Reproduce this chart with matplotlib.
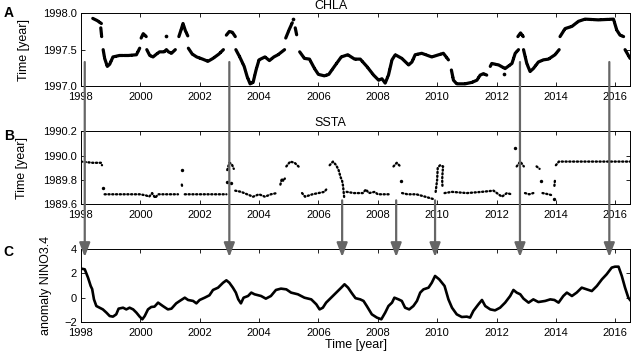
import numpy as np, matplotlib
matplotlib.use('Agg')
import matplotlib.pyplot as plt
from matplotlib.patches import ConnectionPatch
from matplotlib.ticker import FormatStrFormatter

nan = np.nan
# panel A: CHLA, nan breaks the dotted curve into its pieces
chla_year = [1998.40, 1998.55, 1998.69, nan, 1998.67, 1998.70, nan,
             1998.75, 1998.80, 1998.89, 1998.97, 1999.08, 1999.3, 1999.6, 1999.87, 1999.98, nan,
             2000.03, 2000.1, 2000.2, nan,
             2000.22, 2000.32, 2000.43, 2000.55, 2000.65, 2000.8, 2000.88, 2000.95, 2001.05, 2001.18, nan,
             2000.85, nan,
             2001.30, 2001.38, 2001.44, 2001.52, 2001.6, nan,
             2001.62, 2001.75, 2001.9, 2002.1, 2002.28, 2002.45, 2002.65, 2002.8, nan,
             2002.9, 2003.0, 2003.1, 2003.2, nan,
             2003.22, 2003.35, 2003.5, 2003.6, 2003.7, 2003.8, 2003.9, 2004.0, 2004.2, 2004.35, 2004.5, 2004.64, 2004.86, nan,
             2004.9, 2005.02, 2005.12, nan, 2005.15, nan, 2005.22, 2005.27, nan,
             2005.37, 2005.53, 2005.7, 2005.87, 2006.0, 2006.2, 2006.35, 2006.54, 2006.77, 2006.99, 2007.22,
             2007.41, 2007.63, 2007.86, 2008.03, 2008.14, 2008.25, 2008.36, 2008.48, 2008.59, 2008.81, 2009.04,
             2009.15, 2009.26, 2009.48, 2009.82, 2010.05, 2010.21, 2010.38, nan,
             2010.48, 2010.55, 2010.66, 2010.94, 2011.17, 2011.34, 2011.45, 2011.56, 2011.67, nan,
             2011.79, 2011.84, 2012.07, 2012.29, 2012.52, 2012.63, 2012.74, nan,
             2012.25, nan,
             2012.72, 2012.81, 2012.9, nan,
             2012.91, 2013.02, 2013.13, 2013.24, 2013.41, 2013.58, 2013.75, 2013.97, 2014.11, nan,
             2014.14, 2014.31, 2014.54, 2014.76, 2014.98, 2015.43, 2015.94, 2016.05, 2016.16, 2016.28, nan,
             2016.33, 2016.5]
chla_time = [1997.93, 1997.90, 1997.86, nan, 1997.80, 1997.68, nan,
             1997.50, 1997.38, 1997.27, 1997.30, 1997.40, 1997.42, 1997.42, 1997.43, 1997.52, nan,
             1997.66, 1997.72, 1997.68, nan,
             1997.50, 1997.42, 1997.40, 1997.44, 1997.47, 1997.47, 1997.50, 1997.47, 1997.45, 1997.50, nan,
             1997.69, nan,
             1997.68, 1997.78, 1997.86, 1997.76, 1997.69, nan,
             1997.52, 1997.44, 1997.40, 1997.37, 1997.34, 1997.38, 1997.44, 1997.50, nan,
             1997.70, 1997.75, 1997.74, 1997.68, nan,
             1997.50, 1997.40, 1997.27, 1997.13, 1997.03, 1997.05, 1997.22, 1997.36, 1997.40, 1997.35, 1997.40, 1997.43, 1997.50, nan,
             1997.66, 1997.78, 1997.87, nan, 1997.92, nan, 1997.80, 1997.70, nan,
             1997.47, 1997.38, 1997.37, 1997.24, 1997.16, 1997.14, 1997.16, 1997.27, 1997.40, 1997.43, 1997.37,
             1997.37, 1997.27, 1997.15, 1997.08, 1997.10, 1997.04, 1997.15, 1997.36, 1997.43, 1997.38, 1997.29,
             1997.33, 1997.43, 1997.45, 1997.40, 1997.43, 1997.45, 1997.36, nan,
             1997.22, 1997.08, 1997.03, 1997.03, 1997.05, 1997.08, 1997.15, 1997.17, 1997.15, nan,
             1997.27, 1997.31, 1997.29, 1997.24, 1997.31, 1997.45, 1997.50, nan,
             1997.17, nan,
             1997.68, 1997.73, 1997.68, nan,
             1997.50, 1997.31, 1997.20, 1997.24, 1997.33, 1997.36, 1997.37, 1997.43, 1997.50, nan,
             1997.68, 1997.79, 1997.82, 1997.89, 1997.92, 1997.91, 1997.92, 1997.77, 1997.70, 1997.68, nan,
             1997.50, 1997.38]

# panel B: SSTA
ssta_year = [1998.0, 1998.4, 1998.68, 1998.71, nan, 1998.74, nan,
             1998.8, 1999.2, 1999.6, 2000.0, 2000.2, 2000.3, 2000.4, 2000.5, 2000.6, 2001.0, 2001.27, nan,
             2001.4, nan, 2001.4, 2001.42, nan,
             2001.5, 2002.0, 2002.5, 2002.9, nan,
             2002.93, 2003.0, 2003.08, 2003.15, nan, 2002.93, nan, 2003.07, nan,
             2003.2, 2003.4, 2003.6, 2003.8, 2004.0, 2004.2, 2004.4, 2004.6, nan,
             2004.72, 2004.77, 2004.82, 2004.87, nan,
             2004.92, 2005.05, 2005.2, 2005.37, nan,
             2005.45, 2005.55, 2005.8, 2006.0, 2006.2, 2006.3, nan,
             2006.38, 2006.49, 2006.6, 2006.68, 2006.75, 2006.8, 2006.83, 2006.85, 2006.87, nan,
             2006.95, 2007.2, 2007.5, 2007.6, 2007.7, 2007.9, 2008.0, 2008.4, nan,
             2008.53, 2008.64, 2008.76, nan, 2008.79, nan,
             2008.82, 2009.0, 2009.3, 2009.6, 2009.88, nan,
             2009.95, 2009.98, 2010.0, 2010.02, 2010.1, 2010.2, 2010.18, 2010.17, 2010.18, nan,
             2010.25, 2010.5, 2011.0, 2011.5, 2011.9, 2012.18, 2012.35, 2012.5, nan,
             2012.63, nan,
             2012.68, 2012.8, 2012.92, nan,
             2012.96, 2013.1, 2013.24, nan,
             2013.35, 2013.45, nan, 2013.5, nan,
             2013.55, 2013.75, 2013.9, nan, 2013.92, nan,
             2013.95, 2013.97, nan,
             2014.0, 2014.1, 2015.0, 2016.5]
ssta_time = [1989.95, 1989.94, 1989.94, 1989.92, nan, 1989.73, nan,
             1989.68, 1989.68, 1989.68, 1989.68, 1989.67, 1989.66, 1989.69, 1989.65, 1989.68, 1989.68, 1989.68, nan,
             1989.88, nan, 1989.76, 1989.73, nan,
             1989.68, 1989.68, 1989.68, 1989.68, nan,
             1989.88, 1989.94, 1989.93, 1989.89, nan, 1989.78, nan, 1989.77, nan,
             1989.71, 1989.70, 1989.68, 1989.66, 1989.68, 1989.66, 1989.68, 1989.69, nan,
             1989.76, 1989.81, 1989.79, 1989.81, nan,
             1989.91, 1989.95, 1989.94, 1989.90, nan,
             1989.69, 1989.66, 1989.68, 1989.69, 1989.70, 1989.73, nan,
             1989.92, 1989.95, 1989.92, 1989.88, 1989.82, 1989.79, 1989.75, 1989.70, 1989.65, nan,
             1989.70, 1989.69, 1989.69, 1989.72, 1989.69, 1989.70, 1989.68, 1989.68, nan,
             1989.91, 1989.94, 1989.91, nan, 1989.79, nan,
             1989.69, 1989.68, 1989.68, 1989.66, 1989.64, nan,
             1989.70, 1989.76, 1989.80, 1989.90, 1989.92, 1989.91, 1989.85, 1989.80, 1989.74, nan,
             1989.69, 1989.70, 1989.69, 1989.70, 1989.71, 1989.66, 1989.69, 1989.68, nan,
             1990.06, nan,
             1989.91, 1989.95, 1989.91, nan,
             1989.69, 1989.68, 1989.69, nan,
             1989.91, 1989.89, nan, 1989.79, nan,
             1989.69, 1989.68, 1989.67, nan, 1989.64, nan,
             1989.75, 1989.80, nan,
             1989.92, 1989.95, 1989.95, 1989.95]

# panel C: NINO3.4 anomaly
nino_year = [1998.01, 1998.13, 1998.24, 1998.33, 1998.38, 1998.44, 1998.52, 1998.63, 1998.74, 1998.86, 1998.97,
             1999.08, 1999.19, 1999.27, 1999.42, 1999.53, 1999.64, 1999.76, 1999.87, 1999.98,
             2000.07, 2000.15, 2000.26, 2000.37, 2000.48, 2000.60, 2000.76, 2000.93,
             2001.05, 2001.21, 2001.33, 2001.50, 2001.61, 2001.78, 2001.89,
             2002.00, 2002.17, 2002.33, 2002.45, 2002.62, 2002.79, 2002.90,
             2003.00, 2003.12, 2003.22, 2003.30, 2003.39, 2003.48, 2003.63, 2003.74, 2003.85,
             2004.07, 2004.23, 2004.40, 2004.57, 2004.74, 2004.92,
             2005.08, 2005.31, 2005.53, 2005.76, 2005.93,
             2006.04, 2006.15, 2006.26, 2006.43, 2006.60, 2006.77, 2006.88,
             2007.00, 2007.13, 2007.25, 2007.41, 2007.52, 2007.63, 2007.80, 2007.97,
             2008.12, 2008.25, 2008.36, 2008.48, 2008.56, 2008.70, 2008.81, 2008.92,
             2009.06, 2009.20, 2009.32, 2009.43, 2009.54, 2009.71, 2009.82, 2009.93,
             2010.07, 2010.25, 2010.38, 2010.50, 2010.66, 2010.83,
             2011.00, 2011.11, 2011.22, 2011.39, 2011.51, 2011.62, 2011.79, 2011.95,
             2012.12, 2012.29, 2012.46, 2012.57, 2012.68, 2012.80, 2012.91,
             2013.08, 2013.24, 2013.41, 2013.64, 2013.81, 2013.95,
             2014.09, 2014.25, 2014.37, 2014.54, 2014.70, 2014.87,
             2015.04, 2015.21, 2015.38, 2015.55, 2015.71, 2015.88, 2015.99,
             2016.11, 2016.22, 2016.33, 2016.44, 2016.5]
nino_anom = [2.40, 2.34, 1.65, 0.96, 0.70, -0.15, -0.70, -0.84, -0.98, -1.25, -1.53,
             -1.58, -1.39, -0.92, -0.84, -0.98, -0.84, -0.98, -1.25, -1.58,
             -1.80, -1.53, -0.98, -0.78, -0.75, -0.42, -0.70, -0.98,
             -0.92, -0.48, -0.28, -0.01, -0.20, -0.28, -0.48,
             -0.20, -0.01, 0.19, 0.63, 0.82, 1.23, 1.43,
             1.23, 0.82, 0.41, -0.14, -0.48, -0.01, 0.13, 0.41, 0.27,
             0.13, -0.09, 0.13, 0.63, 0.74, 0.68,
             0.41, 0.27, -0.01, -0.15, -0.56,
             -0.98, -0.84, -0.42, -0.01, 0.41, 0.82, 1.10,
             0.82, 0.35, -0.05, -0.15, -0.28, -0.70, -1.39, -1.66,
             -1.80, -1.25, -0.70, -0.42, -0.01, -0.15, -0.28, -0.84,
             -0.98, -0.70, -0.28, 0.41, 0.68, 0.82, 1.23, 1.79,
             1.51, 0.96, -0.15, -0.84, -1.39, -1.61,
             -1.58, -1.66, -1.11, -0.56, -0.20, -0.70, -0.98, -1.06,
             -0.84, -0.42, 0.13, 0.63, 0.41, 0.27, -0.09,
             -0.42, -0.15, -0.37, -0.28, -0.15, -0.20,
             -0.42, 0.13, 0.41, 0.13, 0.41, 0.82,
             0.68, 0.54, 0.96, 1.51, 1.93, 2.48, 2.56,
             2.56, 1.79, 0.82, -0.01, -0.20]

arrows_from_a = [1998.13, 2003.0, 2012.79, 2015.8]
arrows_from_b = [2006.8, 2008.62, 2009.93]
years = list(range(1998, 2017, 2))

def lone(xs, ys):
    # points standing alone between two gaps
    xs, ys = np.asarray(xs), np.asarray(ys)
    p = np.concatenate([[nan], xs, [nan]])
    m = ~np.isnan(xs) & np.isnan(p[:-2]) & np.isnan(p[2:])
    return xs[m], ys[m]

plt.rcParams['font.family'] = ['Liberation Sans', 'DejaVu Sans']
plt.rcParams['font.size'] = 8

fig = plt.figure(figsize=(6.32, 3.59), dpi=100)
axA = fig.add_axes([0.128, 0.7604, 0.869, 0.2025])
axB = fig.add_axes([0.128, 0.4318, 0.869, 0.2025])
axC = fig.add_axes([0.128, 0.1039, 0.869, 0.2017])

axA.plot(chla_year, chla_time, color='k', lw=2.3, dashes=(2.2, 0.3), dash_capstyle='round')
axA.scatter(*lone(chla_year, chla_time), s=7, color='k', lw=0)
axB.plot(ssta_year, ssta_time, color='k', lw=1.7, dashes=(0.5, 1.1), dash_capstyle='round')
axB.scatter(*lone(ssta_year, ssta_time), s=6, color='k', lw=0)
axC.plot(nino_year, nino_anom, color='k', lw=1.9)

axA.set_ylim(1997.0, 1998.0); axA.set_yticks([1997.0, 1997.5, 1998.0])
axB.set_ylim(1989.6, 1990.2); axB.set_yticks([1989.6, 1989.8, 1990.0, 1990.2])
axC.set_ylim(-2, 4); axC.set_yticks([-2, 0, 2, 4])
for ax in (axA, axB):
    ax.yaxis.set_major_formatter(FormatStrFormatter('%.1f'))

for ax in (axA, axB, axC):
    ax.set_xlim(1998, 2016.5)
    ax.set_xticks(years)
    ax.tick_params(direction='in', top=True, right=True, length=3, width=0.6, labelsize=8, pad=3)
    ax.tick_params(axis='x', pad=4.5)
    for s in ax.spines.values(): s.set_linewidth(0.7)

axA.set_ylabel('Time [year]', fontsize=9); axA.yaxis.set_label_coords(-0.093, 0.5)
axB.set_ylabel('Time [year]', fontsize=9); axB.yaxis.set_label_coords(-0.097, 0.5)
axC.set_ylabel('anomaly NINO3.4', fontsize=9); axC.yaxis.set_label_coords(-0.053, 0.5)
axC.set_xlabel('Time [year]', fontsize=9, labelpad=1)
axA.text(0.455, 1.02, 'CHLA', transform=axA.transAxes, ha='center', va='bottom', fontsize=9)
axB.text(0.455, 1.03, 'SSTA', transform=axB.transAxes, ha='center', va='bottom', fontsize=9)
for lab, y in [('A', 0.964), ('B', 0.620), ('C', 0.298)]:
    fig.text(0.006, y, lab, fontsize=10, weight='bold', va='center')

sty = '-|>,head_length=0.6,head_width=0.23'
for x in arrows_from_a:
    fig.add_artist(ConnectionPatch((x, 1997.33), (x, 3.36), 'data', 'data', axesA=axA, axesB=axC,
                                   color='#666666', lw=1.6, arrowstyle=sty, mutation_scale=14))
for x in arrows_from_b:
    fig.add_artist(ConnectionPatch((x, 1989.63), (x, 3.36), 'data', 'data', axesA=axB, axesB=axC,
                                   color='#666666', lw=1.6, arrowstyle=sty, mutation_scale=14))

fig.savefig('out.png', dpi=100)
